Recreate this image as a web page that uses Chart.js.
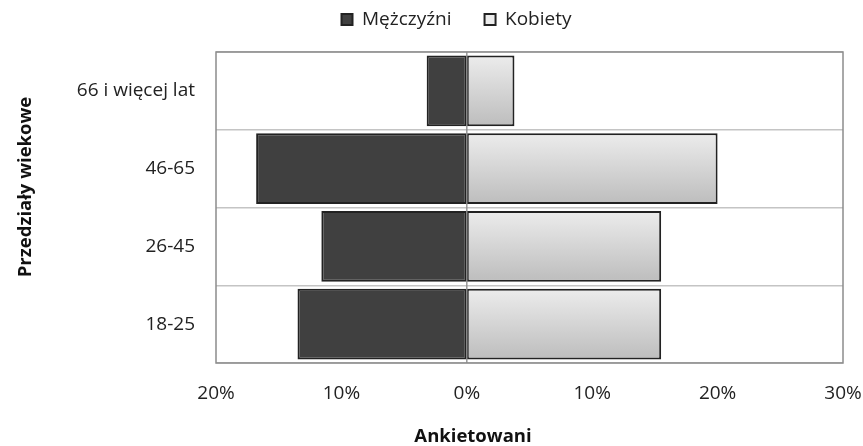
<!DOCTYPE html>
<html>
<head>
<meta charset="utf-8">
<script src="https://cdn.jsdelivr.net/npm/chart.js@4.4.0/dist/chart.umd.min.js"></script>
<style>
  html, body { margin: 0; padding: 0; background: #ffffff; }
  #wrap { width: 863px; height: 446px; position: relative; }
</style>
</head>
<body>
<div id="wrap"><canvas id="c" width="863" height="446"></canvas></div>
<script>
const categories = ['66 i więcej lat', '46-65', '26-45', '18-25'];
const menValues = [-3.2, -16.8, -11.6, -13.5];
const womenValues = [3.8, 20.0, 15.5, 15.5];
const seriesNames = ['Mężczyźni', 'Kobiety'];
const xTicks = [-20, -10, 0, 10, 20, 30];
const xTitle = 'Ankietowani';
const yTitle = 'Przedziały wiekowe';

const FONT = "'Open Sans', sans-serif";
const BAR_PCT = 0.91;

function womenFill(context) {
  const chart = context.chart;
  const area = chart.chartArea;
  const y = chart.scales && chart.scales.y;
  if (!area || !y || context.dataIndex === undefined) return '#d9d9d9';
  const cy = y.getPixelForValue(context.dataIndex);
  const half = (area.bottom - area.top) / categories.length * BAR_PCT / 2;
  const g = chart.ctx.createLinearGradient(0, cy - half, 0, cy + half);
  g.addColorStop(0, '#ececec');
  g.addColorStop(1, '#bdbdbd');
  return g;
}

const framePlugin = {
  id: 'frame',
  afterInit(chart) {
    const lg = chart.legend;
    if (lg) {
      const origFit = lg.fit.bind(lg);
      lg.fit = function () { origFit(); this.height = 44; };
    }
  },
  afterLayout(chart) {
    const lg = chart.legend;
    if (lg) { lg.left += 35; lg.right += 35; lg.top -= 31; }
  },
  afterDatasetsDraw(chart) {
    const { ctx, chartArea: a, scales } = chart;
    const x0 = scales.x.getPixelForValue(0);
    ctx.save();
    ctx.strokeStyle = 'rgba(140,140,140,0.9)';
    ctx.lineWidth = 1.5;
    ctx.beginPath();
    ctx.moveTo(x0, a.top);
    ctx.lineTo(x0, a.bottom);
    ctx.stroke();
    ctx.strokeStyle = '#8c8c8c';
    ctx.lineWidth = 1.5;
    ctx.strokeRect(a.left, a.top, a.right - a.left, a.bottom - a.top);
    ctx.restore();
  },
  afterDraw(chart) {
    const ctx = chart.ctx;
    ctx.save();
    ctx.font = "bold 18.5px 'Open Sans', sans-serif";
    ctx.fillStyle = '#111';
    ctx.textAlign = 'center';
    ctx.textBaseline = 'middle';
    ctx.fillText(xTitle, 473, 437);
    ctx.translate(26, 187);
    ctx.rotate(-Math.PI / 2);
    ctx.fillText(yTitle, 0, 0);
    ctx.restore();
  }
};

new Chart(document.getElementById('c'), {
  type: 'bar',
  data: {
    labels: categories,
    datasets: [
      {
        label: seriesNames[0],
        data: menValues,
        backgroundColor: '#404040',
        borderColor: '#222222',
        borderWidth: 2,
        borderSkipped: false,
        barPercentage: BAR_PCT,
        categoryPercentage: 1.0
      },
      {
        label: seriesNames[1],
        data: womenValues,
        backgroundColor: womenFill,
        borderColor: '#222222',
        borderWidth: 2,
        borderSkipped: false,
        barPercentage: BAR_PCT,
        categoryPercentage: 1.0
      }
    ]
  },
  options: {
    indexAxis: 'y',
    responsive: false,
    animation: false,
    devicePixelRatio: 1,
    layout: { padding: { left: 0, right: 20, top: 8, bottom: 0 } },
    plugins: {
      legend: {
        position: 'top',
        labels: {
          font: { family: FONT, size: 19 },
          color: '#222',
          boxWidth: 11,
          boxHeight: 11,
          padding: 33
        }
      },
      tooltip: { enabled: false }
    },
    scales: {
      x: {
        stacked: true,
        min: xTicks[0],
        max: xTicks[xTicks.length - 1],
        afterBuildTicks(scale) { scale.ticks = xTicks.map(v => ({ value: v })); },
        ticks: {
          callback: v => Math.abs(v) + '%',
          font: { family: FONT, size: 19 },
          color: '#222',
          padding: 11
        },
        grid: { display: false },
        border: { display: false },
        title: { display: false },
        afterFit(scale) { scale.height = 83; scale.paddingLeft = 0; scale.paddingRight = 0; }
      },
      y: {
        stacked: true,
        ticks: {
          font: { family: FONT, size: 19 },
          color: '#222',
          padding: 21
        },
        grid: { display: true, offset: true, color: '#c4c4c4', lineWidth: 1.5, drawTicks: false },
        border: { display: false },
        title: { display: false },
        afterFit(scale) { scale.width = 216; }
      }
    }
  },
  plugins: [framePlugin]
});
</script>
</body>
</html>
